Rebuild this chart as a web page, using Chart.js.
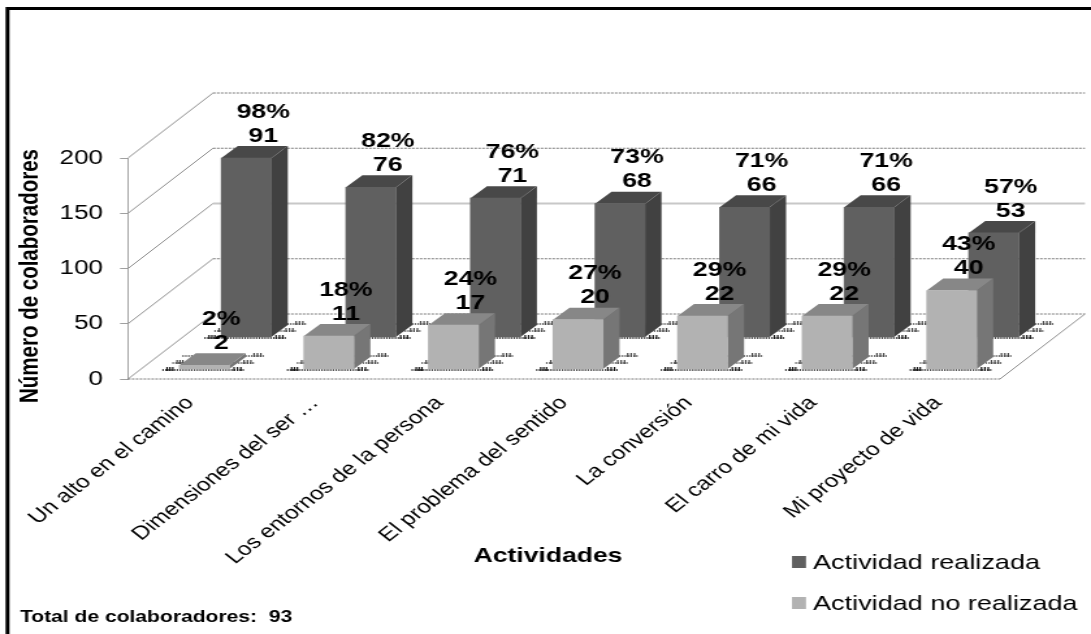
<!DOCTYPE html>
<html>
<head>
<meta charset="utf-8">
<style>
  html, body { margin: 0; padding: 0; background: #fff; }
</style>
<script src="https://cdn.jsdelivr.net/npm/chart.js@4"></script>
</head>
<body>
<canvas id="chart" width="839" height="634" style="display:block;width:1091px;height:634px"></canvas>
<script>
// datos
const categorias = ['Un alto en el camino', 'Dimensiones del ser …', 'Los entornos de la persona',
  'El problema del sentido', 'La conversión', 'El carro de mi vida', 'Mi proyecto de vida'];
const pctRealizada = [98, 82, 76, 73, 71, 71, 57];
const pctNoRealizada = [2, 18, 24, 27, 29, 29, 43];
const numRealizada = [91, 76, 71, 68, 66, 66, 53];
const numNoRealizada = [2, 11, 17, 20, 22, 22, 40];
const nombres = ['Actividad realizada', 'Actividad no realizada'];
const ticksY = [0, 50, 100, 150, 200];
const totalTexto = 'Total de colaboradores:  93';

// El original esta estirado en horizontal: el canvas es mas estrecho y el CSS lo estira
const SX = 1091 / 839;
const px = x => x / SX;

const FONT = '"Liberation Sans", Arial, sans-serif';
const PARED_X = px(85), PARED_Y = 65;   // fondo del piso
const CARA_X = px(16.5), CARA_Y = 12;   // profundidad de cada barra

const COL_OSC = { front: '#606060', top: '#484848', side: '#414141' };
const COL_CLA = { front: '#b2b2b2', top: '#878787', side: '#767676' };

// trazo punteado corto para las sombras del piso
function punteado(ctx, x0, x1, y, ancho, dash, color) {
  ctx.strokeStyle = color;
  ctx.lineWidth = ancho;
  ctx.setLineDash(dash);
  ctx.beginPath();
  ctx.moveTo(x0, y);
  ctx.lineTo(x1, y);
  ctx.stroke();
}

const dibujo3d = {
  id: 'dibujo3d',
  beforeDatasetsDraw(chart) {
    const { ctx, chartArea: a, scales } = chart;
    ctx.save();
    // paredes y lineas de fondo
    ticksY.forEach(t => {
      const y = scales.y.getPixelForValue(t);
      ctx.lineWidth = 1;
      ctx.strokeStyle = '#8c8c8c';
      ctx.setLineDash([]);
      ctx.beginPath();
      ctx.moveTo(a.left, y);
      ctx.lineTo(a.left + PARED_X, y - PARED_Y);
      ctx.stroke();

      if (t === 100) {
        ctx.strokeStyle = '#c8c8c8';
        ctx.lineWidth = 2;
      } else {
        ctx.strokeStyle = '#777';
        ctx.setLineDash([2, 1]);
      }
      ctx.beginPath();
      ctx.moveTo(a.left + PARED_X, y - PARED_Y);
      ctx.lineTo(a.right + PARED_X, y - PARED_Y);
      ctx.stroke();
      ctx.setLineDash([]);
    });
    // piso
    ctx.lineWidth = 1;
    ctx.strokeStyle = '#8c8c8c';
    ctx.beginPath();
    ctx.moveTo(a.right, a.bottom);
    ctx.lineTo(a.right + PARED_X, a.bottom - PARED_Y);
    ctx.stroke();
    ctx.strokeStyle = '#777';
    ctx.setLineDash([2, 1]);
    ctx.beginPath();
    ctx.moveTo(a.left, a.bottom);
    ctx.lineTo(a.right, a.bottom);
    ctx.stroke();
    ctx.restore();
  },
  beforeDatasetDraw(chart, args) {
    const { ctx } = chart;
    const ds = chart.data.datasets[args.index];
    const meta = chart.getDatasetMeta(args.index);
    ctx.save();
    ctx.translate(ds.despX, ds.despY);
    meta.data.forEach(bar => {
      const l = bar.x - bar.width / 2, r = bar.x + bar.width / 2;
      // sombra punteada del piso
      [0, 1, 2].forEach(k => {
        const y = bar.base + 1 - k * 7;
        const x0 = l - px(17) + k * px(10), x1 = r + px(16) + k * px(10);
        const color = k === 0 ? '#111' : '#444';
        punteado(ctx, x0, x1, y, 1.6, [1.2, 1], color);
        if (k < 2) {
          punteado(ctx, x0 + px(4), x0 + px(12), y - 1, 4, [1.2, 1], color);
        }
        punteado(ctx, x1 - px(12), x1 - px(2), y - 1, 4, [1.2, 1.4], color);
      });
      ctx.setLineDash([]);
      // cara lateral
      ctx.fillStyle = ds.caras.side;
      ctx.beginPath();
      ctx.moveTo(r, bar.y);
      ctx.lineTo(r + CARA_X, bar.y - CARA_Y);
      ctx.lineTo(r + CARA_X, bar.base - CARA_Y);
      ctx.lineTo(r, bar.base);
      ctx.closePath();
      ctx.fill();
      // cara superior
      ctx.fillStyle = ds.caras.top;
      ctx.beginPath();
      ctx.moveTo(l, bar.y);
      ctx.lineTo(l + CARA_X, bar.y - CARA_Y);
      ctx.lineTo(r + CARA_X, bar.y - CARA_Y);
      ctx.lineTo(r, bar.y);
      ctx.closePath();
      ctx.fill();
    });
  },
  afterDatasetDraw(chart) {
    chart.ctx.restore();
  },
  afterDatasetsDraw(chart) {
    const { ctx, canvas } = chart;
    ctx.save();
    ctx.fillStyle = '#000';
    ctx.textAlign = 'center';
    ctx.textBaseline = 'middle';
    ctx.font = 'bold 20.5px ' + FONT;
    // etiquetas de porcentaje y numero
    chart.data.datasets.forEach((ds, i) => {
      chart.getDatasetMeta(i).data.forEach((bar, j) => {
        const x = bar.x + ds.despX + px(17);
        const y = bar.y + ds.despY - CARA_Y - 10;
        ctx.fillText(ds.data[j] + '%', x, y - 24);
        ctx.fillText(String(ds.numeros[j]), x, y);
      });
    });

    // titulos de ejes
    ctx.font = 'bold 20.4px ' + FONT;
    ctx.fillText('Actividades', px(548), 556);
    ctx.save();
    ctx.translate(px(31), 276);
    ctx.rotate(-Math.PI / 2);
    ctx.font = 'bold 20.5px ' + FONT;
    ctx.fillText('Número de colaboradores', 0, 0);
    ctx.restore();

    ctx.textAlign = 'left';
    ctx.font = 'bold 16.2px ' + FONT;
    ctx.fillText(totalTexto, px(20), 618);

    // leyenda
    ctx.font = '20.8px ' + FONT;
    chart.data.datasets.forEach((ds, i) => {
      const yc = 562 + i * 41;
      ctx.fillStyle = ds.backgroundColor;
      ctx.fillRect(px(792), yc - 6, px(14), 12);
      ctx.fillStyle = '#000';
      ctx.fillText(ds.label, px(813), yc + 1);
    });

    // marco
    ctx.strokeStyle = '#000';
    ctx.lineWidth = 3;
    ctx.beginPath();
    ctx.moveTo(px(7.5), canvas.height);
    ctx.lineTo(px(7.5), 8.5);
    ctx.lineTo(canvas.width, 8.5);
    ctx.stroke();
    ctx.restore();
  }
};

new Chart(document.getElementById('chart'), {
  type: 'bar',
  plugins: [dibujo3d],
  data: {
    labels: categorias,
    datasets: [
      {
        label: nombres[0], data: pctRealizada, numeros: numRealizada, yAxisID: 'yBarras',
        backgroundColor: COL_OSC.front, caras: COL_OSC, order: 2,
        despX: px(56), despY: -42, clip: false
      },
      {
        label: nombres[1], data: pctNoRealizada, numeros: numNoRealizada, yAxisID: 'yBarras',
        backgroundColor: COL_CLA.front, caras: COL_CLA, order: 1,
        despX: px(14), despY: -10, clip: false
      }
    ]
  },
  options: {
    responsive: false,
    animation: false,
    devicePixelRatio: 1,
    grouped: false,
    barThickness: px(50),
    layout: { padding: { top: 158, right: 839 - px(1000), left: 0, bottom: 0 } },
    plugins: { legend: { display: false }, tooltip: { enabled: false } },
    scales: {
      x: {
        grid: { display: false },
        border: { display: false },
        ticks: {
          autoSkip: false, maxRotation: 45, minRotation: 45,
          color: '#000', padding: 5, font: { family: FONT, size: 18.8 }
        },
        afterFit(axis) { axis.height = 634 - 379; axis.paddingLeft = 0; axis.paddingRight = 0; }
      },
      y: {
        min: 0, max: 200,
        afterBuildTicks(axis) { axis.ticks = ticksY.map(value => ({ value })); },
        grid: { drawOnChartArea: false, color: '#a0a0a0', tickLength: px(8) },
        border: { color: '#a0a0a0' },
        ticks: { color: '#000', padding: px(17), font: { family: FONT, size: 20 } },
        afterFit(axis) { axis.width = px(128); axis.paddingTop = 0; axis.paddingBottom = 0; }
      },
      yBarras: { display: false, min: 0, max: 121 }
    }
  }
});
</script>
</body>
</html>
